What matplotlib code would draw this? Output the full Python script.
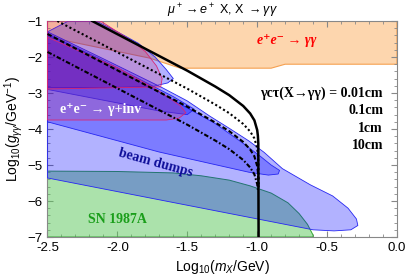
import numpy as np
import matplotlib
matplotlib.use('Agg')
import matplotlib.pyplot as plt
from matplotlib.ticker import MultipleLocator

# Region outlines (log10 m_X, log10 g)
ee_gg_x = [-2.5, 0.0, 0.0, -0.8, -0.9, -1.55, -1.77, -2.39, -2.5]
ee_gg_y = [-1.0, -1.0, -2.2, -2.2, -2.31, -2.31, -2.03, -1.53, -1.45]

sn_x = [-2.5, -2.0, -1.6, -1.4, -1.2, -1.05, -0.9, -0.78, -0.7, -0.64, -0.6, -0.6, -2.5]
sn_y = [-5.17, -5.18, -5.22, -5.3, -5.42, -5.58, -5.78, -6.05, -6.35, -6.65, -6.95, -7.0, -7.0]

bd_main_x = [-2.5, -2.1, -1.68, -1.5, -1.34, -1.2, -1.06, -0.95, -0.82, -0.62, -0.46,
             -0.35, -0.29, -0.28, -0.33, -0.45, -0.6, -2.5]
bd_main_y = [-1.3, -2.05, -2.85, -3.22, -3.64, -3.98, -4.33, -4.65, -5.1, -5.55, -5.86,
             -6.2, -6.5, -6.68, -6.8, -6.83, -6.8, -5.36]

bd_top_x = [-2.35, -2.15, -2.0, -1.85, -1.73, -1.65, -1.6, -1.64, -1.75, -2.1, -2.5, -2.5]
bd_top_y = [-1.0, -1.0, -1.3, -1.62, -2.0, -2.35, -2.6, -2.72, -2.82, -2.85, -2.85, -1.3]

bd_band_x = [-2.5, -2.1, -1.7, -1.3, -1.1, -0.98, -0.9, -0.84, -0.85, -0.92, -1.06, -1.7, -2.5]
bd_band_y = [-1.35, -2.15, -2.98, -3.85, -4.4, -4.75, -5.0, -5.15, -5.25, -5.28, -5.2, -4.64, -3.8]

bd_inner_x = [-2.5, -2.1, -1.8, -1.6, -1.45, -1.5, -1.7, -2.5]
bd_inner_y = [-1.35, -2.1, -2.7, -3.1, -3.45, -3.6, -3.5, -2.9]

inv1_x = [-2.5, -2.12, -2.0, -1.88, -1.8, -1.72, -1.68, -1.69, -2.5]
inv1_y = [-1.0, -1.0, -1.3, -1.6, -1.85, -2.25, -2.6, -2.83, -2.89]

inv2_x = [-2.5, -2.0, -1.7, -1.55, -1.51, -1.56, -1.65, -2.5]
inv2_y = [-1.45, -2.3, -2.95, -3.35, -3.55, -3.7, -3.75, -3.75]

# Decay length contours gamma c tau = 0.01, 0.1, 1, 10 cm
l001_x = [-2.18, -1.5, -1.3, -1.2, -1.1, -1.05, -1.02, -1.0, -0.995, -0.992, -0.99]
l001_y = [-1.0, -2.38, -2.82, -3.06, -3.36, -3.57, -3.76, -4.03, -4.19, -4.40, -7.0]
l01_x = [-2.43, -1.5, -1.3, -1.2, -1.1, -1.05, -1.02, -1.0, -0.995, -0.992, -0.99]
l01_y = [-1.0, -2.88, -3.32, -3.56, -3.86, -4.07, -4.26, -4.53, -4.69, -4.90, -5.6]
l1_x = [-2.5, -1.5, -1.3, -1.2, -1.1, -1.05, -1.02, -1.0, -0.995, -0.992, -0.99]
l1_y = [-1.36, -3.38, -3.82, -4.06, -4.36, -4.57, -4.76, -5.03, -5.19, -5.40, -5.65]
l10_x = [-2.5, -1.5, -1.3, -1.2, -1.1, -1.05, -1.02, -1.0, -0.995]
l10_y = [-1.86, -3.88, -4.32, -4.56, -4.86, -5.07, -5.26, -5.53, -5.69]

lengths = ['0.01cm', '0.1cm', '1cm', '10cm']

plt.rcParams['mathtext.fontset'] = 'custom'
plt.rcParams['mathtext.rm'] = 'Liberation Sans'
plt.rcParams['mathtext.it'] = 'Liberation Sans:italic'
plt.rcParams['font.family'] = ['Liberation Sans', 'DejaVu Sans']
serif = ['Liberation Serif', 'DejaVu Serif']

fig = plt.figure(figsize=(4.07, 2.79), dpi=100)
ax = fig.add_axes([0.1167, 0.1505, 0.8587, 0.7742])

ax.fill(ee_gg_x, ee_gg_y, facecolor='#fdd6ae', edgecolor='#f5a050', lw=0.8, zorder=1)
ax.fill(sn_x, sn_y, facecolor=(0.35, 0.78, 0.35, 0.5), edgecolor=(0.2, 0.65, 0.2), lw=0.7, zorder=2)
for bx, by in [(bd_main_x, bd_main_y), (bd_top_x, bd_top_y), (bd_band_x, bd_band_y),
               (bd_inner_x, bd_inner_y)]:
    ax.fill(bx, by, facecolor=(0.0, 0.0, 1.0, 0.3), edgecolor=(0.15, 0.15, 0.95), lw=0.6, zorder=3)
for rx, ry in [(inv1_x, inv1_y), (inv2_x, inv2_y)]:
    ax.fill(rx, ry, facecolor=(0.85, 0.1, 0.35, 0.2), edgecolor=(0.85, 0.15, 0.45), lw=0.6, zorder=4)

ax.plot(l001_x, l001_y, color='k', lw=1.8, zorder=6)
ax.plot(l01_x, l01_y, color='k', lw=1.5, ls=(0, (1, 1.2)), zorder=6)
ax.plot(l1_x, l1_y, color='k', lw=1.5, ls=(0, (2.2, 1.2)), zorder=6)
ax.plot(l10_x, l10_y, color='k', lw=1.5, ls=(0, (2.2, 1.0, 0.8, 1.0)), zorder=6)

ax.text(-0.79, -1.55, 'e⁺e⁻ → γγ', color='red', fontsize=10, family=serif,
        weight='bold', style='italic', ha='center', va='center', zorder=7)
ax.text(-2.41, -3.47, 'e⁺e⁻ → γ+inv', color='white', fontsize=10, family=serif,
        weight='bold', ha='left', va='center', zorder=7)
ax.text(-1.73, -4.95, 'beam dumps', color=(0.05, 0.05, 0.6), fontsize=10, family=serif,
        weight='bold', ha='center', va='center', rotation=-15.5, zorder=7)
ax.text(-2.0, -6.5, 'SN 1987A', color=(0.1, 0.62, 0.1), fontsize=10, family=serif,
        weight='bold', ha='center', va='center', zorder=7)
ax.text(-0.1, -3.0, 'γcτ(X→γγ) = ' + lengths[0], fontsize=10, family=serif,
        weight='bold', ha='right', va='center', zorder=7)
for i, ly in enumerate([-3.48, -3.98, -4.47]):
    ax.text(-0.1, ly, lengths[i + 1], fontsize=10, family=serif,
            weight='bold', ha='right', va='center', zorder=7)

ax.set_xlim(-2.5, 0.0)
ax.set_ylim(-7, -1)
ax.xaxis.set_major_locator(MultipleLocator(0.5))
ax.xaxis.set_minor_locator(MultipleLocator(0.1))
ax.yaxis.set_major_locator(MultipleLocator(1))
ax.yaxis.set_minor_locator(MultipleLocator(0.2))
ax.xaxis.set_major_formatter(matplotlib.ticker.FormatStrFormatter('%.1f'))
ax.tick_params(which='both', direction='in', top=True, right=True, labelsize=9.5, color='#888888')
ax.tick_params(which='major', length=4)
ax.tick_params(which='minor', length=2)
for s in ax.spines.values():
    s.set_color('#888888')
    s.set_linewidth(0.8)

ax.set_xlabel(r'Log$_{10}$($m_X$/GeV)', fontsize=10, labelpad=3)
ax.set_ylabel(r'Log$_{10}$($g_{\gamma\gamma}$/GeV$^{-1}$)', fontsize=10, labelpad=2)
ax.set_title(r'$\mu^+ \rightarrow e^+$ X, X $\rightarrow \gamma\gamma$', fontsize=9, pad=5)

fig.savefig('out.png', dpi=100)
